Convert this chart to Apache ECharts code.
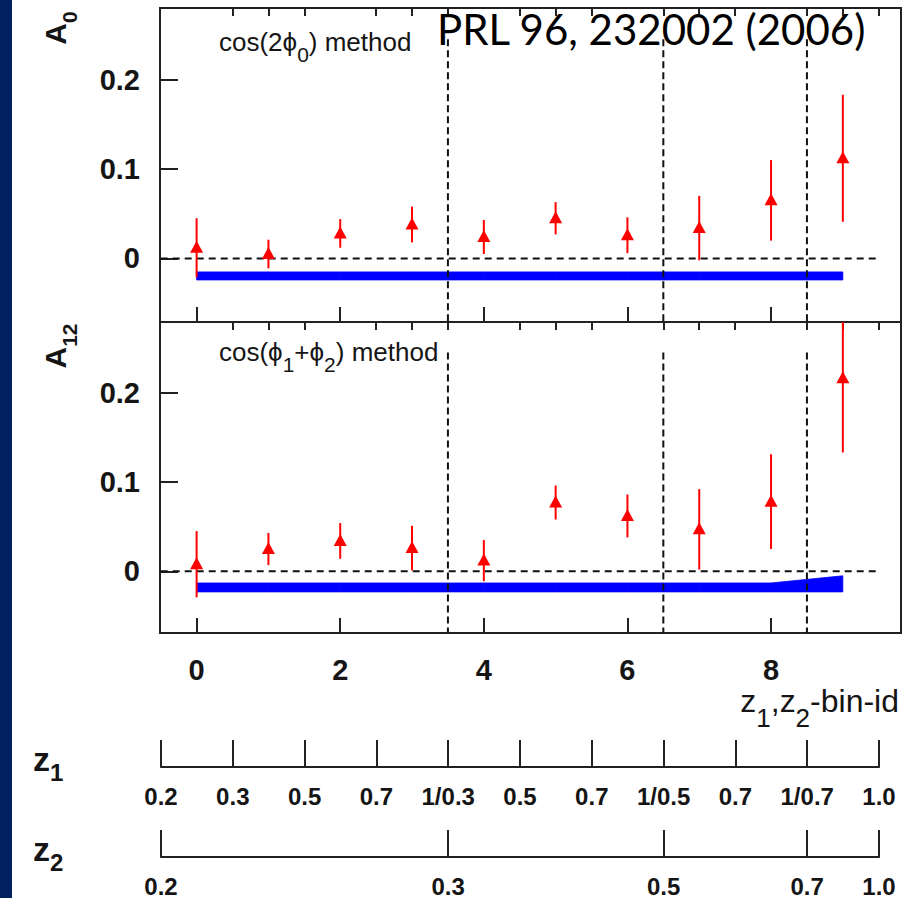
<!DOCTYPE html>
<html>
<head>
<meta charset="utf-8">
<script src="https://cdn.jsdelivr.net/npm/echarts@6.0.0/dist/echarts.min.js"></script>
<style>
  html, body { margin: 0; padding: 0; background: #ffffff; }
  #chart { width: 909px; height: 898px; }
</style>
</head>
<body>
<div id="chart"></div>
<script>
// bin ids (x positions of the points)
var binIds = [0, 1, 2, 3, 4, 5, 6, 7, 8, 9];

// A0, cos(2phi0) method
var a0Val = [0.012, 0.005, 0.028, 0.038, 0.024, 0.045, 0.026, 0.034, 0.065, 0.112];
var a0Err = [0.033, 0.016, 0.016, 0.020, 0.019, 0.018, 0.020, 0.036, 0.045, 0.071];
var a0SysLow = [-0.024, -0.024, -0.024, -0.024, -0.024, -0.024, -0.024, -0.024, -0.024, -0.024];
var a0SysHigh = [-0.015, -0.015, -0.015, -0.015, -0.015, -0.015, -0.015, -0.015, -0.015, -0.015];

// A12, cos(phi1+phi2) method
var a12Val = [0.008, 0.025, 0.034, 0.026, 0.012, 0.077, 0.062, 0.047, 0.078, 0.216];
var a12Err = [0.037, 0.018, 0.020, 0.025, 0.023, 0.019, 0.024, 0.045, 0.053, 0.083];
var a12SysLow = [-0.023, -0.023, -0.023, -0.023, -0.023, -0.023, -0.023, -0.023, -0.023, -0.023];
var a12SysHigh = [-0.013, -0.013, -0.013, -0.013, -0.013, -0.013, -0.013, -0.013, -0.013, -0.005];

// dashed separators between z2 bins
var binEdges = [3.5, 6.5, 8.5];
var dashTop = 0.245;

// tick positions / labels
var yTicks = [0, 0.1, 0.2];
var xMajorTicks = [0, 2, 4, 6, 8];
var xMinorTicks = [0.5, 1, 1.5, 2.5, 3, 3.5, 4.5, 5, 5.5, 6.5, 7, 7.5, 8.5, 9, 9.5];
var z1Ticks = [-0.5, 0.5, 1.5, 2.5, 3.5, 4.5, 5.5, 6.5, 7.5, 8.5, 9.5];
var z1Labels = ['0.2', '0.3', '0.5', '0.7', '1/0.3', '0.5', '0.7', '1/0.5', '0.7', '1/0.7', '1.0'];
var z2Ticks = [-0.5, 3.5, 6.5, 8.5, 9.5];
var z2Labels = ['0.2', '0.3', '0.5', '0.7', '1.0'];

var TXT = '#151515';
var FONT = '"Liberation Sans", Arial, sans-serif';

var chart = echarts.init(document.getElementById('chart'), null, { renderer: 'svg' });

function pick(ticks, labels, v) {
  var best = 0;
  for (var i = 0; i < ticks.length; i++) {
    if (Math.abs(ticks[i] - v) < Math.abs(ticks[best] - v)) best = i;
  }
  return labels[best];
}

// red triangle + vertical error bar
function renderPoint(params, api) {
  var x = api.value(0), v = api.value(1), e = api.value(2);
  var c = api.coord([x, v]);
  var top = api.coord([x, v + e])[1];
  var bot = api.coord([x, v - e])[1];
  var cs = params.coordSys;
  top = Math.max(top, cs.y);
  bot = Math.min(bot, cs.y + cs.height);
  return {
    type: 'group',
    children: [
      { type: 'line', shape: { x1: c[0], y1: top, x2: c[0], y2: bot }, style: { stroke: '#ff0000', lineWidth: 2 } },
      { type: 'polygon', shape: { points: [[c[0], c[1] - 7], [c[0] + 6.5, c[1] + 5], [c[0] - 6.5, c[1] + 5]] }, style: { fill: '#ff0000' } }
    ]
  };
}

// blue systematic band, one piece between two neighbouring bins
function renderBand(params, api) {
  var i = params.dataIndexInside;
  if (i >= params.dataInsideLength - 1) return;
  var a = api.coord([api.value(0, i), api.value(2, i)]);
  var b = api.coord([api.value(0, i + 1), api.value(2, i + 1)]);
  var c = api.coord([api.value(0, i + 1), api.value(1, i + 1)]);
  var d = api.coord([api.value(0, i), api.value(1, i)]);
  return {
    type: 'polygon',
    shape: { points: [a, b, c, d] },
    style: { fill: '#0000ff', stroke: '#0000ff', lineWidth: 0.8 }
  };
}

function panelSeries(ax, vals, errs, low, high, yMin) {
  var list = [];
  var yAx = ax / 2;
  list.push({
    type: 'custom', xAxisIndex: ax, yAxisIndex: yAx, renderItem: renderBand,
    data: binIds.map(function (x, i) { return [x, low[i], high[i]]; }), silent: true, z: 2
  });
  list.push({
    type: 'line', xAxisIndex: ax, yAxisIndex: yAx, data: [[-0.5, 0], [9.5, 0]],
    symbol: 'none', lineStyle: { color: '#111', width: 2, type: [7, 5] }, silent: true, z: 3
  });
  binEdges.forEach(function (e) {
    list.push({
      type: 'line', xAxisIndex: ax, yAxisIndex: yAx, data: [[e, dashTop], [e, yMin]],
      symbol: 'none', lineStyle: { color: '#111', width: 2, type: [7, 4] }, silent: true, z: 3
    });
  });
  list.push({
    type: 'custom', xAxisIndex: ax, yAxisIndex: yAx, renderItem: renderPoint,
    data: binIds.map(function (x, i) { return [x, vals[i], errs[i]]; }), silent: true, z: 4
  });
  return list;
}

var tickLine = { color: '#222', width: 2 };

function mainXAxes(grid, withLabels) {
  return [{
    gridIndex: grid, type: 'value', min: -0.51, max: 9.81,
    axisLine: { show: false, onZero: false },
    splitLine: { show: false },
    axisTick: { show: true, inside: true, length: 15, customValues: xMajorTicks, lineStyle: tickLine },
    axisLabel: withLabels ? {
      show: true, customValues: xMajorTicks, margin: 22,
      fontFamily: FONT, fontWeight: 'bold', fontSize: 29, color: TXT
    } : { show: false }
  }, {
    gridIndex: grid, type: 'value', min: -0.51, max: 9.81,
    axisLine: { show: false, onZero: false },
    splitLine: { show: false },
    axisTick: { show: true, inside: true, length: 8, customValues: xMinorTicks, lineStyle: tickLine },
    axisLabel: { show: false }
  }];
}

function mainYAxis(grid, mn, mx) {
  return {
    gridIndex: grid, type: 'value', min: mn, max: mx,
    axisLine: { show: false, onZero: false },
    splitLine: { show: false },
    axisTick: { show: true, inside: true, length: 18, customValues: yTicks, lineStyle: tickLine },
    axisLabel: { show: true, customValues: yTicks, margin: 20, fontFamily: FONT, fontWeight: 'bold', fontSize: 29, color: TXT }
  };
}

function zAxis(grid, ticks, labels) {
  return {
    gridIndex: grid, type: 'value', min: -0.5, max: 9.5,
    axisLine: { show: true, onZero: false, lineStyle: { color: '#222', width: 2 } },
    splitLine: { show: false },
    axisTick: { show: true, inside: true, length: 27, customValues: ticks, lineStyle: tickLine },
    axisLabel: {
      show: true, customValues: ticks, margin: 17,
      fontFamily: FONT, fontWeight: 'bold', fontSize: 24, color: TXT,
      formatter: function (v) { return pick(ticks, labels, v); }
    }
  };
}

// rich styles for "main + subscript": a taller subscript box pushes it below the baseline
function subRich(main, sub, weight, d) {
  return {
    m: { fontSize: main, fontFamily: FONT, fontWeight: weight, fill: TXT, lineHeight: main, verticalAlign: 'top' },
    s: { fontSize: sub, fontFamily: FONT, fontWeight: weight, fill: TXT, lineHeight: main + 2 * d, verticalAlign: 'bottom' }
  };
}

var option = {
  animation: false,
  backgroundColor: '#ffffff',
  grid: [
    { left: 160, top: 8, width: 741, height: 314, show: true, borderColor: '#222', borderWidth: 2, backgroundColor: 'transparent' },
    { left: 160, top: 322, width: 741, height: 311, show: true, borderColor: '#222', borderWidth: 2, backgroundColor: 'transparent' },
    { left: 161, top: 740, width: 718, height: 27 },
    { left: 161, top: 832, width: 718, height: 27 }
  ],
  xAxis: mainXAxes(0, false).concat(mainXAxes(1, true)).concat([zAxis(2, z1Ticks, z1Labels), zAxis(3, z2Ticks, z2Labels)]),
  yAxis: [
    mainYAxis(0, -0.071, 0.28),
    mainYAxis(1, -0.069, 0.279),
    { gridIndex: 2, type: 'value', min: 0, max: 1, show: false },
    { gridIndex: 3, type: 'value', min: 0, max: 1, show: false }
  ],
  series: [],
  graphic: [
    // dark slide border on the left
    { type: 'rect', shape: { x: 0, y: 0, width: 12, height: 898 }, style: { fill: '#002060' }, z: 100 },
    { type: 'text', x: 437, y: 29, z: 100, style: { text: 'PRL 96, 232002 (2006)', fontFamily: 'Lato, "Open Sans", sans-serif', fontSize: 42, fill: '#000', align: 'left', verticalAlign: 'middle' } },
    { type: 'text', x: 219, y: 42 - 13, z: 100, style: { text: '{m|cos(2ϕ}{s|0}{m|) method}', align: 'left', verticalAlign: 'top', rich: subRich(26, 21, 'normal', 5) } },
    { type: 'text', x: 219, y: 352 - 13, z: 100, style: { text: '{m|cos(ϕ}{s|1}{m|+ϕ}{s|2}{m|) method}', align: 'left', verticalAlign: 'top', rich: subRich(26, 21, 'normal', 5) } },
    { type: 'text', x: 40, y: 28, rotation: Math.PI / 2, z: 100, style: { text: '{m|A}{s|0}', align: 'center', verticalAlign: 'top', rich: subRich(30, 21, 'bold', 5) } },
    { type: 'text', x: 40, y: 346, rotation: Math.PI / 2, z: 100, style: { text: '{m|A}{s|12}', align: 'center', verticalAlign: 'top', rich: subRich(30, 21, 'bold', 5) } },
    { type: 'text', x: 899, y: 701 - 16, z: 100, style: { text: '{m|z}{s|1}{m|,z}{s|2}{m|-bin-id}', align: 'right', verticalAlign: 'top', rich: subRich(32, 26, 'normal', 7) } },
    { type: 'text', x: 33, y: 759 - 17, z: 100, style: { text: '{m|z}{s|1}', align: 'left', verticalAlign: 'top', rich: subRich(34, 24, 'bold', 4) } },
    { type: 'text', x: 33, y: 849 - 17, z: 100, style: { text: '{m|z}{s|2}', align: 'left', verticalAlign: 'top', rich: subRich(34, 24, 'bold', 4) } }
  ]
};

option.series = panelSeries(0, a0Val, a0Err, a0SysLow, a0SysHigh, -0.071)
  .concat(panelSeries(2, a12Val, a12Err, a12SysLow, a12SysHigh, -0.069));

chart.setOption(option);
</script>
</body>
</html>
